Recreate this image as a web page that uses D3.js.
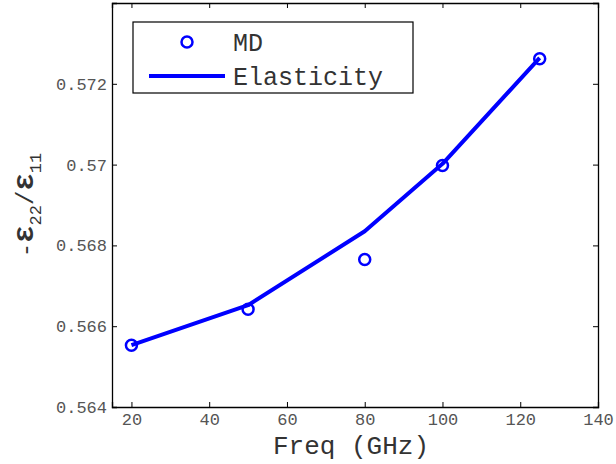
<!DOCTYPE html>
<html>
<head>
<meta charset="utf-8">
<script src="https://cdn.jsdelivr.net/npm/d3@7"></script>
<style>
  body { margin: 0; background: #fff; }
  svg text { font-family: "Liberation Mono", "DejaVu Sans Mono", monospace; }
  .tick text { fill: #555; font-size: 17px; }
</style>
</head>
<body>
<div id="chart"></div>
<script>
// values
var freqs = [20, 50, 80, 100, 125];
var mdValues = [0.56553, 0.56642, 0.56765, 0.56998, 0.57262];
var elasticValues = [0.56553, 0.56652, 0.56835, 0.57002, 0.57264];
var xTicks = [20, 40, 60, 80, 100, 120, 140];
var yTicks = [0.564, 0.566, 0.568, 0.57, 0.572];

var margin = { top: 3, right: 18, bottom: 57, left: 112 },
    width = 616 - margin.left - margin.right,
    height = 464 - margin.top - margin.bottom;

var svg = d3.select("#chart").append("svg")
    .attr("width", 616)
    .attr("height", 464)
  .append("g")
    .attr("transform", "translate(" + margin.left + "," + margin.top + ")");

var x = d3.scaleLinear().domain([15, 140]).range([0, width]);
var y = d3.scaleLinear().domain([0.564, 0.574]).range([height, 0]);

function fmt(d) { return d3.format(".3~f")(d); }

// axes (box with ticks on all sides, like matlab)
svg.append("g")
    .attr("transform", "translate(0," + height + ")")
    .call(d3.axisBottom(x).tickValues(xTicks).tickSize(-5).tickPadding(6));
svg.append("g")
    .call(d3.axisTop(x).tickValues(xTicks).tickSize(-5).tickFormat(""));
svg.append("g")
    .call(d3.axisLeft(y).tickValues(yTicks.concat([0.574])).tickSize(-5).tickPadding(5)
      .tickFormat(function(d) { return d > 0.573 ? "" : fmt(d); }));
svg.append("g")
    .attr("transform", "translate(" + width + ",0)")
    .call(d3.axisRight(y).tickValues(yTicks.concat([0.574])).tickSize(-5).tickFormat(""));

svg.selectAll(".domain").attr("stroke", "#000").attr("stroke-width", 1.3);
svg.selectAll(".tick line").attr("stroke", "#000");
svg.selectAll(".tick text").attr("font-family", null).attr("font-size", null);

// elasticity line
var line = d3.line()
    .x(function(d, i) { return x(freqs[i]); })
    .y(function(d) { return y(d); });

svg.append("path")
    .datum(elasticValues)
    .attr("d", line)
    .attr("fill", "none")
    .attr("stroke", "#0000ff")
    .attr("stroke-width", 4)
    .attr("stroke-linejoin", "round");

// MD markers
svg.selectAll(".md")
    .data(mdValues)
  .enter().append("circle")
    .attr("class", "md")
    .attr("cx", function(d, i) { return x(freqs[i]); })
    .attr("cy", function(d) { return y(d); })
    .attr("r", 5.5)
    .attr("fill", "none")
    .attr("stroke", "#0000ff")
    .attr("stroke-width", 2.5);

// axis labels
svg.append("text")
    .attr("x", 351 - margin.left)
    .attr("y", 454 - margin.top)
    .attr("text-anchor", "middle")
    .attr("font-size", 26)
    .attr("fill", "#333")
    .text("Freq (GHz)");

var yl = svg.append("text")
    .attr("transform", "translate(" + (33 - margin.left) + "," + (205 - margin.top) + ") rotate(-90)")
    .attr("text-anchor", "middle")
    .attr("font-size", 24)
    .attr("fill", "#333");
yl.append("tspan").text("-");
yl.append("tspan").attr("font-weight", "bold").attr("font-size", 29).text("\u03b5");
yl.append("tspan").attr("font-size", 17).attr("dy", 8).text("22");
yl.append("tspan").attr("dy", -8).text("/");
yl.append("tspan").attr("font-weight", "bold").attr("font-size", 29).text("\u03b5");
yl.append("tspan").attr("font-size", 17).attr("dy", 8).text("11");

// legend
var legend = svg.append("g").attr("transform", "translate(21,19)");
legend.append("rect")
    .attr("width", 280)
    .attr("height", 71)
    .attr("fill", "#fff")
    .attr("stroke", "#000")
    .attr("stroke-width", 1.2);
legend.append("circle")
    .attr("cx", 54).attr("cy", 20).attr("r", 5.5)
    .attr("fill", "none").attr("stroke", "#0000ff").attr("stroke-width", 2.5);
legend.append("text")
    .attr("x", 100).attr("y", 29)
    .attr("font-size", 25).attr("fill", "#333")
    .text("MD");
legend.append("line")
    .attr("x1", 16).attr("x2", 92).attr("y1", 54).attr("y2", 54)
    .attr("stroke", "#0000ff").attr("stroke-width", 4);
legend.append("text")
    .attr("x", 100).attr("y", 63)
    .attr("font-size", 25).attr("fill", "#333")
    .text("Elasticity");
</script>
</body>
</html>
